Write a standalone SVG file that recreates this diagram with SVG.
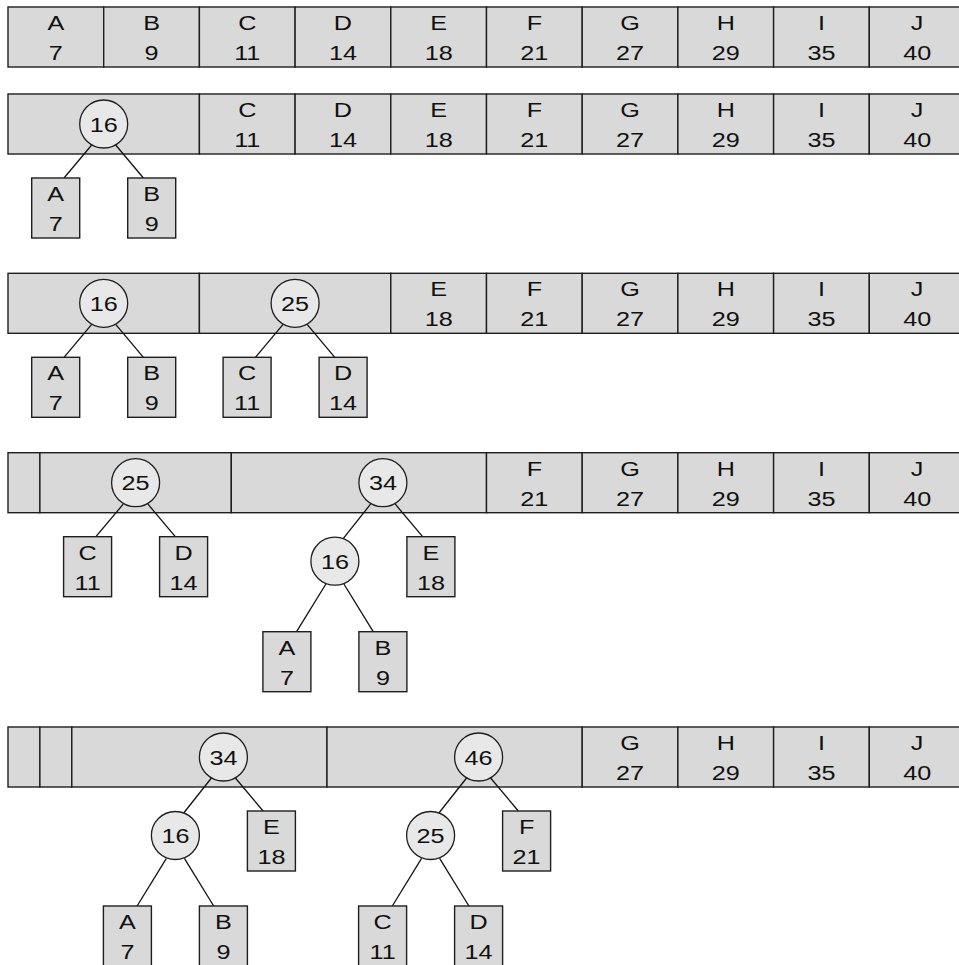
<svg xmlns="http://www.w3.org/2000/svg" width="959" height="965" viewBox="0 0 959 965">
<style>
.c{fill:#d9d9d9;stroke:#1e1e1e;stroke-width:1.4}
.n{fill:#e8e8e8;stroke:#1e1e1e;stroke-width:1.3}
.t{font-family:"Liberation Sans",Arial,sans-serif;font-size:21px;text-anchor:middle;fill:#111}
.e{stroke:#111;stroke-width:1.3;fill:none}
</style>
<rect width="959" height="965" fill="#fff"/>

<!-- Row 1 -->
<g id="row1">
<rect class="c" x="8" y="7" width="95.7" height="60"/><rect class="c" x="103.7" y="7" width="95.7" height="60"/><rect class="c" x="199.4" y="7" width="95.7" height="60"/><rect class="c" x="295.1" y="7" width="95.7" height="60"/><rect class="c" x="390.8" y="7" width="95.7" height="60"/><rect class="c" x="486.5" y="7" width="95.7" height="60"/><rect class="c" x="582.2" y="7" width="95.7" height="60"/><rect class="c" x="677.9" y="7" width="95.7" height="60"/><rect class="c" x="773.6" y="7" width="95.7" height="60"/><rect class="c" x="869.3" y="7" width="95.7" height="60"/>
<text class="t" transform="translate(55.85 30) scale(1.2 1)">A</text><text class="t" transform="translate(55.85 60) scale(1.2 1)">7</text>
<text class="t" transform="translate(151.55 30) scale(1.2 1)">B</text><text class="t" transform="translate(151.55 60) scale(1.2 1)">9</text>
<text class="t" transform="translate(247.25 30) scale(1.2 1)">C</text><text class="t" transform="translate(247.25 60) scale(1.2 1)">11</text>
<text class="t" transform="translate(342.95 30) scale(1.2 1)">D</text><text class="t" transform="translate(342.95 60) scale(1.2 1)">14</text>
<text class="t" transform="translate(438.65 30) scale(1.2 1)">E</text><text class="t" transform="translate(438.65 60) scale(1.2 1)">18</text>
<text class="t" transform="translate(534.35 30) scale(1.2 1)">F</text><text class="t" transform="translate(534.35 60) scale(1.2 1)">21</text>
<text class="t" transform="translate(630.05 30) scale(1.2 1)">G</text><text class="t" transform="translate(630.05 60) scale(1.2 1)">27</text>
<text class="t" transform="translate(725.75 30) scale(1.2 1)">H</text><text class="t" transform="translate(725.75 60) scale(1.2 1)">29</text>
<text class="t" transform="translate(821.45 30) scale(1.2 1)">I</text><text class="t" transform="translate(821.45 60) scale(1.2 1)">35</text>
<text class="t" transform="translate(917.15 30) scale(1.2 1)">J</text><text class="t" transform="translate(917.15 60) scale(1.2 1)">40</text>
</g>

<!-- Row 2 -->
<g id="row2">
<rect class="c" x="8" y="94" width="191.4" height="60"/><rect class="c" x="199.4" y="94" width="95.7" height="60"/><rect class="c" x="295.1" y="94" width="95.7" height="60"/><rect class="c" x="390.8" y="94" width="95.7" height="60"/><rect class="c" x="486.5" y="94" width="95.7" height="60"/><rect class="c" x="582.2" y="94" width="95.7" height="60"/><rect class="c" x="677.9" y="94" width="95.7" height="60"/><rect class="c" x="773.6" y="94" width="95.7" height="60"/><rect class="c" x="869.3" y="94" width="95.7" height="60"/>
<text class="t" transform="translate(247.25 117) scale(1.2 1)">C</text><text class="t" transform="translate(247.25 147) scale(1.2 1)">11</text>
<text class="t" transform="translate(342.95 117) scale(1.2 1)">D</text><text class="t" transform="translate(342.95 147) scale(1.2 1)">14</text>
<text class="t" transform="translate(438.65 117) scale(1.2 1)">E</text><text class="t" transform="translate(438.65 147) scale(1.2 1)">18</text>
<text class="t" transform="translate(534.35 117) scale(1.2 1)">F</text><text class="t" transform="translate(534.35 147) scale(1.2 1)">21</text>
<text class="t" transform="translate(630.05 117) scale(1.2 1)">G</text><text class="t" transform="translate(630.05 147) scale(1.2 1)">27</text>
<text class="t" transform="translate(725.75 117) scale(1.2 1)">H</text><text class="t" transform="translate(725.75 147) scale(1.2 1)">29</text>
<text class="t" transform="translate(821.45 117) scale(1.2 1)">I</text><text class="t" transform="translate(821.45 147) scale(1.2 1)">35</text>
<text class="t" transform="translate(917.15 117) scale(1.2 1)">J</text><text class="t" transform="translate(917.15 147) scale(1.2 1)">40</text>
</g>

<!-- Row 3 -->
<g id="row3">
<rect class="c" x="8" y="273.3" width="191.4" height="60"/><rect class="c" x="199.4" y="273.3" width="191.4" height="60"/><rect class="c" x="390.8" y="273.3" width="95.7" height="60"/><rect class="c" x="486.5" y="273.3" width="95.7" height="60"/><rect class="c" x="582.2" y="273.3" width="95.7" height="60"/><rect class="c" x="677.9" y="273.3" width="95.7" height="60"/><rect class="c" x="773.6" y="273.3" width="95.7" height="60"/><rect class="c" x="869.3" y="273.3" width="95.7" height="60"/>
<text class="t" transform="translate(438.65 296.3) scale(1.2 1)">E</text><text class="t" transform="translate(438.65 326.3) scale(1.2 1)">18</text>
<text class="t" transform="translate(534.35 296.3) scale(1.2 1)">F</text><text class="t" transform="translate(534.35 326.3) scale(1.2 1)">21</text>
<text class="t" transform="translate(630.05 296.3) scale(1.2 1)">G</text><text class="t" transform="translate(630.05 326.3) scale(1.2 1)">27</text>
<text class="t" transform="translate(725.75 296.3) scale(1.2 1)">H</text><text class="t" transform="translate(725.75 326.3) scale(1.2 1)">29</text>
<text class="t" transform="translate(821.45 296.3) scale(1.2 1)">I</text><text class="t" transform="translate(821.45 326.3) scale(1.2 1)">35</text>
<text class="t" transform="translate(917.15 296.3) scale(1.2 1)">J</text><text class="t" transform="translate(917.15 326.3) scale(1.2 1)">40</text>
</g>

<!-- Row 4 -->
<g id="row4">
<rect class="c" x="8" y="452.7" width="31.9" height="60"/><rect class="c" x="39.9" y="452.7" width="191.4" height="60"/><rect class="c" x="231.3" y="452.7" width="255.2" height="60"/><rect class="c" x="486.5" y="452.7" width="95.7" height="60"/><rect class="c" x="582.2" y="452.7" width="95.7" height="60"/><rect class="c" x="677.9" y="452.7" width="95.7" height="60"/><rect class="c" x="773.6" y="452.7" width="95.7" height="60"/><rect class="c" x="869.3" y="452.7" width="95.7" height="60"/>
<text class="t" transform="translate(534.35 475.7) scale(1.2 1)">F</text><text class="t" transform="translate(534.35 505.7) scale(1.2 1)">21</text>
<text class="t" transform="translate(630.05 475.7) scale(1.2 1)">G</text><text class="t" transform="translate(630.05 505.7) scale(1.2 1)">27</text>
<text class="t" transform="translate(725.75 475.7) scale(1.2 1)">H</text><text class="t" transform="translate(725.75 505.7) scale(1.2 1)">29</text>
<text class="t" transform="translate(821.45 475.7) scale(1.2 1)">I</text><text class="t" transform="translate(821.45 505.7) scale(1.2 1)">35</text>
<text class="t" transform="translate(917.15 475.7) scale(1.2 1)">J</text><text class="t" transform="translate(917.15 505.7) scale(1.2 1)">40</text>
</g>

<!-- Row 5 -->
<g id="row5">
<rect class="c" x="8" y="727" width="31.9" height="60"/><rect class="c" x="39.9" y="727" width="31.9" height="60"/><rect class="c" x="71.8" y="727" width="255.2" height="60"/><rect class="c" x="327" y="727" width="255.2" height="60"/><rect class="c" x="582.2" y="727" width="95.7" height="60"/><rect class="c" x="677.9" y="727" width="95.7" height="60"/><rect class="c" x="773.6" y="727" width="95.7" height="60"/><rect class="c" x="869.3" y="727" width="95.7" height="60"/>
<text class="t" transform="translate(630.05 750) scale(1.2 1)">G</text><text class="t" transform="translate(630.05 780) scale(1.2 1)">27</text>
<text class="t" transform="translate(725.75 750) scale(1.2 1)">H</text><text class="t" transform="translate(725.75 780) scale(1.2 1)">29</text>
<text class="t" transform="translate(821.45 750) scale(1.2 1)">I</text><text class="t" transform="translate(821.45 780) scale(1.2 1)">35</text>
<text class="t" transform="translate(917.15 750) scale(1.2 1)">J</text><text class="t" transform="translate(917.15 780) scale(1.2 1)">40</text>
</g>

<!-- Connectors -->
<g id="connectors" class="e">
<line x1="91.7" y1="145" x2="64" y2="178"/><line x1="115.7" y1="145" x2="143.4" y2="178"/>
<line x1="91.7" y1="324.3" x2="64" y2="357.3"/><line x1="115.7" y1="324.3" x2="143.4" y2="357.3"/>
<line x1="283.1" y1="324.3" x2="255.4" y2="357.3"/><line x1="307.1" y1="324.3" x2="334.8" y2="357.3"/>
<line x1="123.6" y1="503.7" x2="95.9" y2="536.7"/><line x1="147.6" y1="503.7" x2="175.3" y2="536.7"/>
<line x1="370.9" y1="503.7" x2="343.2" y2="538.7"/><line x1="394.9" y1="503.7" x2="422.6" y2="536.7"/>
<line x1="325.9" y1="584" x2="296.6" y2="631.7"/><line x1="343.9" y1="584" x2="373.2" y2="631.7"/>
<line x1="211.4" y1="778" x2="183.7" y2="813"/><line x1="235.4" y1="778" x2="263.1" y2="811"/>
<line x1="466.6" y1="778" x2="438.9" y2="813"/><line x1="490.6" y1="778" x2="518.3" y2="811"/>
<line x1="166.4" y1="858.3" x2="137.1" y2="906"/><line x1="184.4" y1="858.3" x2="213.7" y2="906"/>
<line x1="421.6" y1="858.3" x2="392.3" y2="906"/><line x1="439.6" y1="858.3" x2="468.9" y2="906"/>
</g>

<!-- Row 2 tree -->
<g id="r2-n16"><circle class="n" cx="103.7" cy="124" r="24"/><text class="t" transform="translate(103.7 131.5) scale(1.2 1)">16</text></g>
<g id="r2-A"><rect class="c" x="31.7" y="178" width="48" height="60"/><text class="t" transform="translate(55.7 201) scale(1.2 1)">A</text><text class="t" transform="translate(55.7 231) scale(1.2 1)">7</text></g>
<g id="r2-B"><rect class="c" x="127.7" y="178" width="48" height="60"/><text class="t" transform="translate(151.7 201) scale(1.2 1)">B</text><text class="t" transform="translate(151.7 231) scale(1.2 1)">9</text></g>

<!-- Row 3 trees -->
<g id="r3-n16"><circle class="n" cx="103.7" cy="303.3" r="24"/><text class="t" transform="translate(103.7 310.8) scale(1.2 1)">16</text></g>
<g id="r3-n25"><circle class="n" cx="295.1" cy="303.3" r="24"/><text class="t" transform="translate(295.1 310.8) scale(1.2 1)">25</text></g>
<g id="r3-A"><rect class="c" x="31.7" y="357.3" width="48" height="60"/><text class="t" transform="translate(55.7 380.3) scale(1.2 1)">A</text><text class="t" transform="translate(55.7 410.3) scale(1.2 1)">7</text></g>
<g id="r3-B"><rect class="c" x="127.7" y="357.3" width="48" height="60"/><text class="t" transform="translate(151.7 380.3) scale(1.2 1)">B</text><text class="t" transform="translate(151.7 410.3) scale(1.2 1)">9</text></g>
<g id="r3-C"><rect class="c" x="223.1" y="357.3" width="48" height="60"/><text class="t" transform="translate(247.1 380.3) scale(1.2 1)">C</text><text class="t" transform="translate(247.1 410.3) scale(1.2 1)">11</text></g>
<g id="r3-D"><rect class="c" x="319.1" y="357.3" width="48" height="60"/><text class="t" transform="translate(343.1 380.3) scale(1.2 1)">D</text><text class="t" transform="translate(343.1 410.3) scale(1.2 1)">14</text></g>

<!-- Row 4 trees -->
<g id="r4-n25"><circle class="n" cx="135.6" cy="482.7" r="24"/><text class="t" transform="translate(135.6 490.2) scale(1.2 1)">25</text></g>
<g id="r4-n34"><circle class="n" cx="382.9" cy="482.7" r="24"/><text class="t" transform="translate(382.9 490.2) scale(1.2 1)">34</text></g>
<g id="r4-C"><rect class="c" x="63.6" y="536.7" width="48" height="60"/><text class="t" transform="translate(87.6 559.7) scale(1.2 1)">C</text><text class="t" transform="translate(87.6 589.7) scale(1.2 1)">11</text></g>
<g id="r4-D"><rect class="c" x="159.6" y="536.7" width="48" height="60"/><text class="t" transform="translate(183.6 559.7) scale(1.2 1)">D</text><text class="t" transform="translate(183.6 589.7) scale(1.2 1)">14</text></g>
<g id="r4-n16"><circle class="n" cx="334.9" cy="561.2" r="24"/><text class="t" transform="translate(334.9 568.7) scale(1.2 1)">16</text></g>
<g id="r4-E"><rect class="c" x="406.9" y="536.7" width="48" height="60"/><text class="t" transform="translate(430.9 559.7) scale(1.2 1)">E</text><text class="t" transform="translate(430.9 589.7) scale(1.2 1)">18</text></g>
<g id="r4-A"><rect class="c" x="262.9" y="631.7" width="48" height="60"/><text class="t" transform="translate(286.9 654.7) scale(1.2 1)">A</text><text class="t" transform="translate(286.9 684.7) scale(1.2 1)">7</text></g>
<g id="r4-B"><rect class="c" x="358.9" y="631.7" width="48" height="60"/><text class="t" transform="translate(382.9 654.7) scale(1.2 1)">B</text><text class="t" transform="translate(382.9 684.7) scale(1.2 1)">9</text></g>

<!-- Row 5 trees -->
<g id="r5-n34"><circle class="n" cx="223.4" cy="757" r="24"/><text class="t" transform="translate(223.4 764.5) scale(1.2 1)">34</text></g>
<g id="r5-n46"><circle class="n" cx="478.6" cy="757" r="24"/><text class="t" transform="translate(478.6 764.5) scale(1.2 1)">46</text></g>
<g id="r5-n16"><circle class="n" cx="175.4" cy="835.5" r="24"/><text class="t" transform="translate(175.4 843) scale(1.2 1)">16</text></g>
<g id="r5-E"><rect class="c" x="247.4" y="811" width="48" height="60"/><text class="t" transform="translate(271.4 834) scale(1.2 1)">E</text><text class="t" transform="translate(271.4 864) scale(1.2 1)">18</text></g>
<g id="r5-n25"><circle class="n" cx="430.6" cy="835.5" r="24"/><text class="t" transform="translate(430.6 843) scale(1.2 1)">25</text></g>
<g id="r5-F"><rect class="c" x="502.6" y="811" width="48" height="60"/><text class="t" transform="translate(526.6 834) scale(1.2 1)">F</text><text class="t" transform="translate(526.6 864) scale(1.2 1)">21</text></g>
<g id="r5-A"><rect class="c" x="103.4" y="906" width="48" height="60"/><text class="t" transform="translate(127.4 929) scale(1.2 1)">A</text><text class="t" transform="translate(127.4 959) scale(1.2 1)">7</text></g>
<g id="r5-B"><rect class="c" x="199.4" y="906" width="48" height="60"/><text class="t" transform="translate(223.4 929) scale(1.2 1)">B</text><text class="t" transform="translate(223.4 959) scale(1.2 1)">9</text></g>
<g id="r5-C"><rect class="c" x="358.6" y="906" width="48" height="60"/><text class="t" transform="translate(382.6 929) scale(1.2 1)">C</text><text class="t" transform="translate(382.6 959) scale(1.2 1)">11</text></g>
<g id="r5-D"><rect class="c" x="454.6" y="906" width="48" height="60"/><text class="t" transform="translate(478.6 929) scale(1.2 1)">D</text><text class="t" transform="translate(478.6 959) scale(1.2 1)">14</text></g>
</svg>
